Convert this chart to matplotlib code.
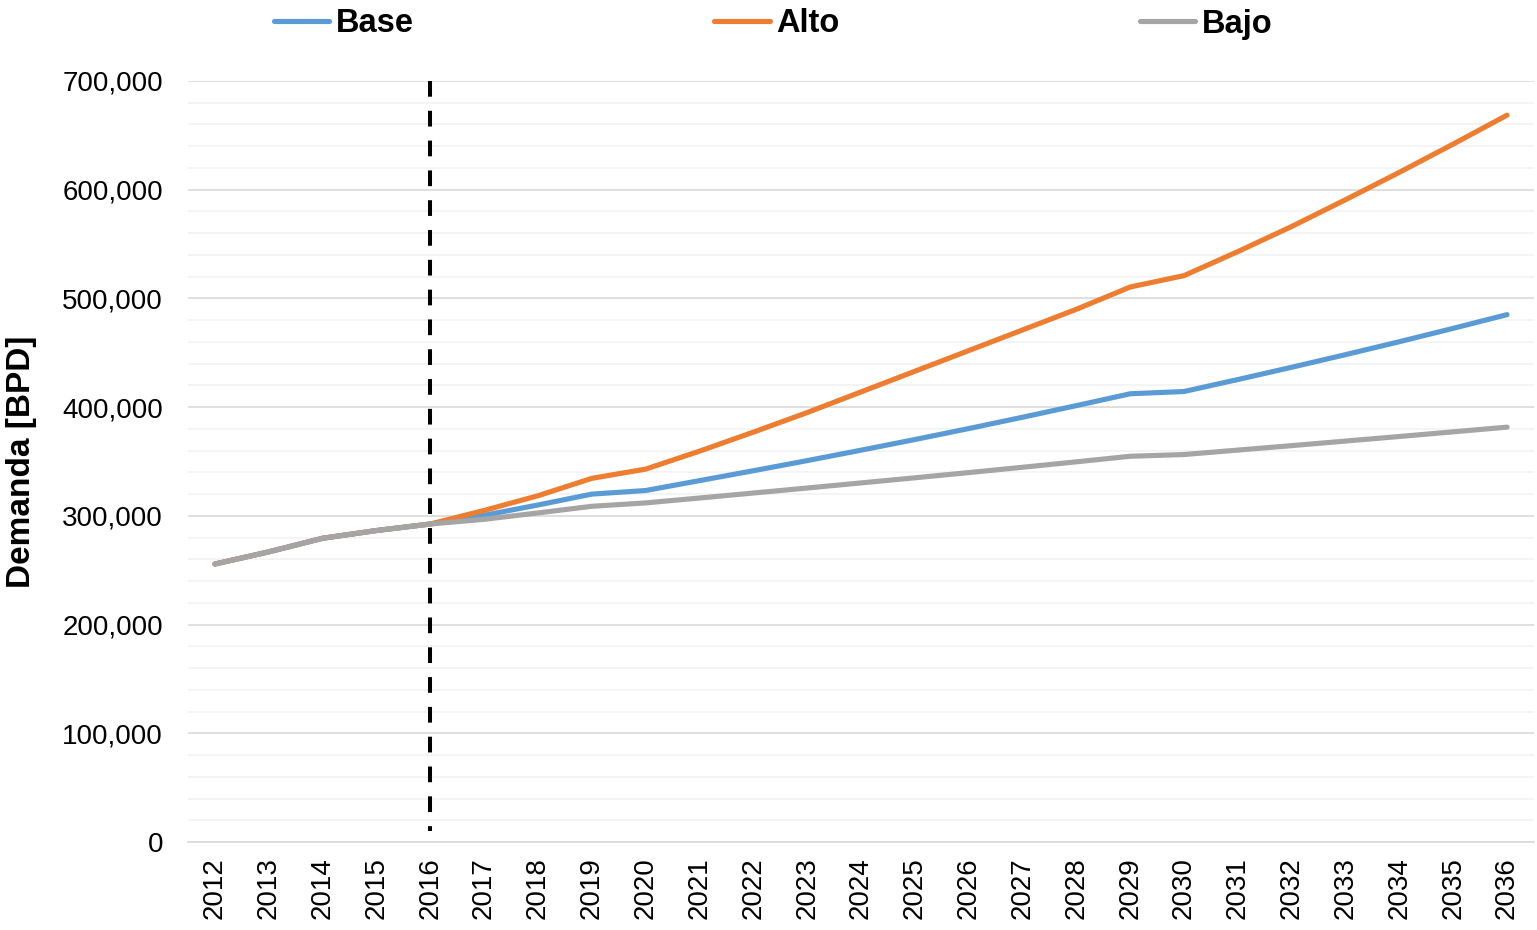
import matplotlib.pyplot as plt
from matplotlib.ticker import FuncFormatter, MultipleLocator

plt.rcParams['font.family'] = ['Liberation Sans', 'DejaVu Sans']

years = list(range(2012, 2037))

base = [255700, 266900, 279400, 286500, 292500, 300500, 310000, 320000, 323300,
        332400, 341500, 350800, 360400, 370200, 380300, 390700, 401400, 412300,
        414400, 425400, 436700, 448300, 460200, 472500, 485100]
alto = [255700, 266900, 279400, 286500, 292500, 305000, 318500, 334500, 343000,
        359500, 377000, 395000, 414000, 433000, 452000, 471000, 490000, 510500,
        521000, 543100, 566200, 590800, 616000, 642000, 668600]
bajo = [255700, 266900, 279400, 286500, 292500, 296800, 302700, 308800, 311900,
        316400, 321000, 325600, 330300, 335000, 339800, 344700, 349700, 354800,
        356400, 360500, 364600, 368800, 373000, 377300, 381600]

series = [('Base', base, '#5B9BD5'), ('Alto', alto, '#ED7D31'), ('Bajo', bajo, '#A5A5A5')]
corte = 2016

fig = plt.figure(figsize=(15.37, 9.30), dpi=100)
ax = fig.add_axes([188 / 1537, 88 / 930, 1346 / 1537, 761 / 930])

# rejilla mayor cada 100.000 y menor cada 20.000
ax.set_ylim(0, 700000)
ax.set_xlim(2011.5, 2036.5)
ax.yaxis.set_major_locator(MultipleLocator(100000))
ax.yaxis.set_minor_locator(MultipleLocator(20000))
ax.grid(axis='y', which='major', color='#D9D9D9', linewidth=1.2, zorder=0)
ax.grid(axis='y', which='minor', color='#F2F2F2', linewidth=1.2, zorder=0)
ax.set_axisbelow(True)

for nombre, valores, color in series:
    ax.plot(years, valores, color=color, linewidth=3.7, label=nombre,
            solid_capstyle='round', solid_joinstyle='round', zorder=3)

# linea de corte entre historico y proyeccion
ax.plot([corte, corte], [700000, 10000], color='black', linewidth=2.9,
        dashes=(3.9, 3.5), zorder=4)

ax.set_xticks(years)
ax.set_xticklabels([str(y) for y in years], rotation=90)
ax.yaxis.set_major_formatter(FuncFormatter(lambda v, p: f'{int(v):,}'))
ax.tick_params(axis='both', which='both', length=0, labelsize=20)
ax.tick_params(axis='y', pad=18)
ax.tick_params(axis='x', pad=11)

for lado in ['top', 'right', 'left']:
    ax.spines[lado].set_visible(False)
ax.spines['bottom'].set_color('#D9D9D9')
ax.spines['bottom'].set_linewidth(1.2)

ax.set_ylabel('Demanda [BPD]', fontsize=24, fontweight='bold', labelpad=18)

fig.legend(loc='center left', bbox_to_anchor=(274 / 1537, 1 - 24 / 930),
           bbox_transform=fig.transFigure, ncol=3, frameon=False,
           prop={'size': 23.5, 'weight': 'bold'}, handlelength=1.7,
           handletextpad=0.2, columnspacing=9.2, borderpad=0, borderaxespad=0)

fig.savefig('out.png', dpi=100)
